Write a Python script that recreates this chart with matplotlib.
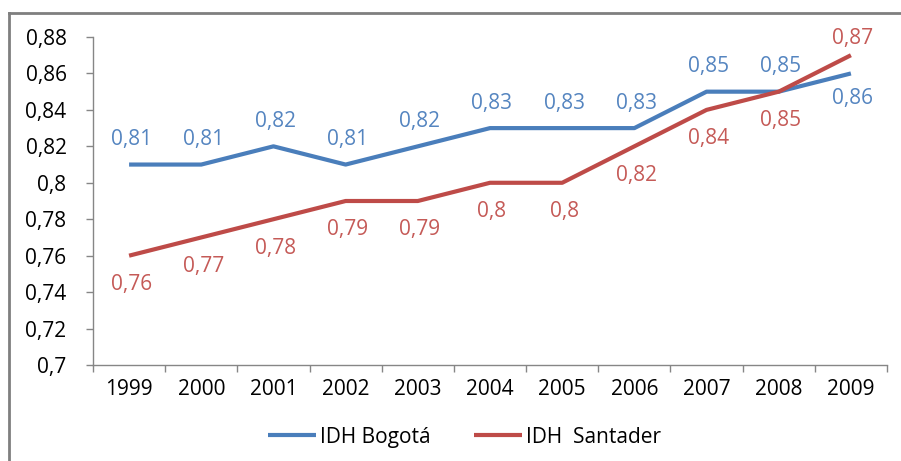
import matplotlib.pyplot as plt
from matplotlib.lines import Line2D
import numpy as np

years = ['1999', '2000', '2001', '2002', '2003', '2004', '2005', '2006', '2007', '2008', '2009']
bogota = [0.81, 0.81, 0.82, 0.81, 0.82, 0.83, 0.83, 0.83, 0.85, 0.85, 0.86]
santander = [0.76, 0.77, 0.78, 0.79, 0.79, 0.80, 0.80, 0.82, 0.84, 0.85, 0.87]
y_ticks = [0.70, 0.72, 0.74, 0.76, 0.78, 0.80, 0.82, 0.84, 0.86, 0.88]

plt.rcParams['font.family'] = ['Open Sans', 'DejaVu Sans']

blue_line, red_line = '#4A7EBB', '#BE4B48'
blue_txt, red_txt = '#5585C0', '#C55A57'
axis_col = '#868686'
fs = 15

def fmt(v):
    # Spanish decimal comma, trailing zeros dropped like Excel
    s = ('%.2f' % v).rstrip('0').rstrip('.')
    return s.replace('.', ',')

fig = plt.figure(figsize=(9.01, 4.61), dpi=100)
ax = fig.add_axes([93 / 901, 1 - 365 / 461, 794 / 901, 328 / 461])

x = np.arange(len(years))
ax.plot(x, bogota, color=blue_line, lw=3, solid_capstyle='butt', label='IDH Bogotá')
ax.plot(x, santander, color=red_line, lw=3, solid_capstyle='butt', label='IDH  Santader')

# data labels: Bogota above, Santander below (swapped in the last year)
for i in range(len(years)):
    by = 25 if i < len(years) - 1 else -25
    sy = -29 if i < len(years) - 1 else 17
    ax.annotate(fmt(bogota[i]), (x[i], bogota[i]), xytext=(2, by), textcoords='offset pixels',
                ha='center', va='center', color=blue_txt, fontsize=fs)
    ax.annotate(fmt(santander[i]), (x[i], santander[i]), xytext=(2, sy), textcoords='offset pixels',
                ha='center', va='center', color=red_txt, fontsize=fs)

ax.set_xlim(-0.5, len(years) - 0.5)
ax.set_ylim(0.70, 0.88)
ax.set_yticks(y_ticks)
ax.set_yticklabels([fmt(v) for v in y_ticks])
ax.set_xticks(x)
ax.set_xticklabels(years)
ax.set_xticks(np.arange(-0.5, len(years), 1.0), minor=True)
ax.tick_params(axis='x', which='major', length=0, pad=10, labelsize=fs)
ax.tick_params(axis='x', which='minor', length=5, color=axis_col, width=1)
ax.tick_params(axis='y', length=5, color=axis_col, width=1, pad=14, labelsize=fs)

for s in ['top', 'right']:
    ax.spines[s].set_visible(False)
for s in ['left', 'bottom']:
    ax.spines[s].set_color(axis_col)
    ax.spines[s].set_linewidth(1)

ax.legend(loc='center', bbox_to_anchor=(0.5155, 1 - 437 / 461), bbox_transform=fig.transFigure,
          ncol=2, frameon=False, fontsize=fs, handlelength=2.3, handletextpad=0.2,
          columnspacing=2.1)

# chart border (only left and top edges visible in the crop)
fig.add_artist(Line2D([9 / 901, 9 / 901], [0, 1 - 13 / 461], color='#7f7f7f', lw=2))
fig.add_artist(Line2D([9 / 901, 1], [1 - 13 / 461, 1 - 13 / 461], color='#7f7f7f', lw=2))

fig.savefig('out.png', dpi=100)
